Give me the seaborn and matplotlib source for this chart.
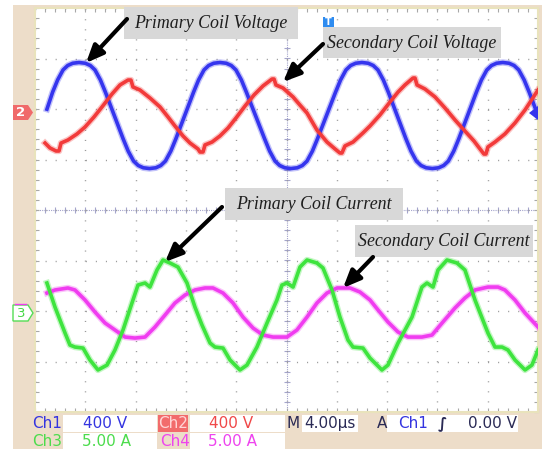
import numpy as np
import pandas as pd
import matplotlib
matplotlib.use("Agg")
import matplotlib.pyplot as plt
import seaborn as sns
from matplotlib.patches import Rectangle, Polygon

# ---------------- data (time in µs, voltage in V, current in A) ----------------
blue_t = [0.95, 1.40, 1.80, 2.23, 2.60, 3.00, 3.50, 4.00, 4.40, 4.77, 5.20, 5.60,
          7.01, 7.41, 7.84, 8.21, 8.61, 9.105, 9.61, 10.00, 10.37, 10.80, 11.20,
          12.61, 13.01, 13.44, 13.81, 14.21, 14.71, 15.21, 15.61, 15.98, 16.41, 16.81,
          18.26, 18.66, 19.09, 19.46, 19.86, 20.355, 20.86, 21.26, 21.63, 22.06, 22.46,
          23.90, 24.30, 24.73, 25.10, 25.50, 26.00, 26.50, 26.90, 27.27, 27.70, 28.10,
          29.50, 29.90, 30.33, 30.70, 31.10, 31.60, 32.10, 32.50, 32.87, 33.30, 33.70,
          35.10, 35.50, 35.93, 36.30, 36.70, 37.20, 37.70, 38.10, 38.47, 38.90, 39.30,
          40.00]
blue_v = [30, 165, 262, 341, 376, 394, 400, 394, 376, 341, 262, 165,
          -205, -302, -381, -416, -434, -440, -434, -416, -381, -302, -205,
          165, 262, 341, 376, 394, 400, 394, 376, 341, 262, 165,
          -205, -302, -381, -416, -434, -440, -434, -416, -381, -302, -205,
          165, 262, 341, 376, 394, 400, 394, 376, 341, 262, 165,
          -205, -302, -381, -416, -434, -440, -434, -416, -381, -302, -205,
          165, 262, 341, 376, 394, 400, 394, 376, 341, 262, 165,
          -20]

red_t = [0.80, 1.19, 1.67, 1.91, 2.07, 2.62, 3.34, 3.98, 4.69, 5.33, 6.12, 6.76, 7.40,
         7.63, 7.79, 8.35, 9.14, 9.94, 10.58, 11.13, 11.77, 12.33, 12.96, 13.12, 13.36,
         13.52, 14.08, 14.71, 15.35, 15.98, 16.70, 17.42, 18.13, 18.85, 19.01, 19.16,
         19.72, 20.52, 21.07, 21.63, 22.42, 23.22, 23.86, 24.25, 24.41, 24.65, 25.29,
         26.08, 26.64, 27.43, 28.23, 28.87, 29.42, 30.06, 30.22, 30.38, 31.01, 31.81,
         32.60, 33.40, 34.19, 34.91, 35.39, 35.70, 35.86, 36.02, 36.58, 37.37, 38.17,
         38.97, 40.00]
red_v = [-238, -277, -301, -301, -238, -214, -166, -111, -32, 48, 150, 222, 261,
         261, 206, 182, 119, 48, -32, -103, -182, -238, -285, -309, -309,
         -253, -230, -182, -119, -40, 55, 143, 214, 269, 269, 222,
         198, 127, 63, 0, -135, -230, -285, -317, -317, -261, -230,
         -158, -103, -16, 87, 166, 222, 277, 277, 222, 190, 127,
         40, -55, -143, -222, -285, -325, -325, -269, -230, -166, -79,
         24, 182]

green_t = [0.95, 1.59, 2.39, 2.78, 3.18, 3.82, 4.37, 5.01, 5.73, 6.36, 7.00, 7.71, 8.19,
           8.75, 9.14, 9.70, 10.18, 10.74, 11.37, 12.09, 12.72, 13.28, 13.92, 14.31,
           14.95, 15.51, 16.30, 16.86, 17.65, 18.45, 19.24, 19.64, 20.04, 20.52, 21.07,
           21.63, 22.42, 22.90, 23.62, 24.25, 24.89, 25.29, 26.08, 26.64, 27.59, 28.07,
           28.87, 29.98, 30.77, 31.17, 31.65, 32.05, 32.76, 33.56, 34.19, 34.99, 36.02,
           36.58, 37.14, 37.61, 38.17, 38.97, 39.52, 40.00]
green_i = [2.97, 0.59, -1.98, -3.17, -3.37, -3.47, -4.65, -5.64, -5.15, -3.66, -1.68, 0.99, 2.77,
           2.97, 2.57, 4.26, 5.25, 4.95, 4.55, 2.97, 0.59, -1.19, -2.97, -3.37,
           -3.47, -4.65, -5.64, -5.15, -3.37, -0.99, 1.29, 2.77, 2.97, 2.57, 4.55,
           5.25, 4.95, 4.46, 2.28, -0.40, -2.67, -3.37, -3.47, -4.46, -5.64, -5.15,
           -2.97, -0.40, 2.57, 2.97, 2.57, 4.26, 5.25, 4.95, 4.26, 1.29, -1.98,
           -3.37, -3.37, -3.66, -4.65, -5.64, -5.15, -3.66]

magenta_t = [0.95, 1.59, 2.62, 3.18, 3.98, 4.77, 5.57, 6.36, 7.16, 7.95, 8.75, 9.54, 10.34,
             11.13, 11.93, 12.72, 13.52, 14.15, 14.95, 15.75, 16.54, 17.34, 18.13, 18.93,
             20.04, 20.83, 21.63, 22.42, 23.22, 24.02, 25.05, 25.84, 26.64, 27.28, 28.07,
             28.87, 29.66, 30.77, 31.57, 32.37, 33.40, 34.19, 34.99, 36.02, 36.82, 37.37,
             38.17, 38.97, 40.00]
magenta_i = [1.98, 2.28, 2.48, 2.28, 1.29, 0.10, -0.99, -1.68, -2.38, -2.48, -2.38, -1.39, -0.20,
             0.99, 1.78, 2.28, 2.48, 2.48, 1.98, 0.99, -0.40, -1.49, -2.18, -2.38,
             -2.38, -1.68, -0.40, 0.99, 1.98, 2.48, 2.48, 2.08, 1.29, 0.30, -0.89,
             -1.88, -2.38, -2.38, -2.18, -0.99, 0.50, 1.49, 2.28, 2.57, 2.57, 2.28,
             1.29, 0.00, -1.39]

channel_names = ["Ch1", "Ch2", "Ch3", "Ch4"]
channel_scales = ["400 V", "400 V", "5.00 A", "5.00 A"]
timebase_label = "4.00\u00b5s"
trigger_level = "0.00 V"
annotations = ["Primary Coil Voltage", "Secondary Coil Voltage",
               "Primary Coil Current", "Secondary Coil Current"]

# ---------------- styling ----------------
W, H = 542, 449
COL = {"Ch1": "#3535EE", "Ch2": "#F23A3A", "Ch3": "#3EE43E", "Ch4": "#F03CF0"}
TXT = {"Ch1": "#3434E0", "Ch2": "#F04848", "Ch3": "#4CDC4C", "Ch4": "#EE44EE"}
DARK = "#2A2A55"
TAN = "#EDDDC9"

fig = plt.figure(figsize=(W / 100, H / 100), dpi=100)
fig.patch.set_facecolor("white")

bg = fig.add_axes([0, 0, 1, 1], zorder=0)
bg.set_xlim(0, W); bg.set_ylim(H, 0); bg.axis("off")
bg.add_patch(Rectangle((13, 5), W - 13, H - 5, color=TAN, lw=0))

ax = fig.add_axes([35 / W, (H - 412) / H, 503 / W, 404 / H], zorder=1)
ax.set_facecolor("white")
ax.set_xlim(0, 40)
ax.set_ylim(-4, 4)
ax.set_xticks(np.arange(0, 40.01, 4))
ax.set_yticks(np.arange(-4, 4.01, 1))
ax.set_xticks(np.arange(0, 40.01, 0.8), minor=True)
ax.set_yticks(np.arange(-4, 4.01, 0.2), minor=True)
ax.tick_params(which="both", direction="in", length=3, width=0.8, color="#A8A8A8",
               labelbottom=False, labelleft=False, top=True, right=True)
ax.grid(which="major", color="#9C9C9C", lw=1.0, linestyle=(0, (0.8, 6.44)))
for s in ax.spines.values():
    s.set_color("#E9E3BC")
    s.set_linewidth(1.5)

# centre cross-hair with minor ticks
cc = "#A4A4CC"
ax.axhline(0, color=cc, lw=0.8, linestyle=(0, (1, 1)), zorder=1)
ax.axvline(20, color=cc, lw=0.8, linestyle=(0, (1, 1)), zorder=1)
mx = np.arange(0, 40.01, 0.8)
ax.plot(mx, np.zeros_like(mx), ls="none", marker="|", ms=5, mew=0.8, color=cc, zorder=1)
my = np.arange(-4, 4.01, 0.2)
ax.plot(np.full_like(my, 20), my, ls="none", marker="_", ms=5, mew=0.8, color=cc, zorder=1)

# channel offsets in divisions and scales per division
off_v, off_i = 1.921, -2.040
vdiv, idiv = 400.0, 5.0

traces = [
    (blue_t, np.array(blue_v) / vdiv + off_v, COL["Ch1"]),
    (red_t, np.array(red_v) / vdiv + off_v, COL["Ch2"]),
    (magenta_t, np.array(magenta_i) / idiv + off_i, COL["Ch4"]),
    (green_t, np.array(green_i) / idiv + off_i, COL["Ch3"]),
]
for t, y, c in traces:
    df = pd.DataFrame({"t": t, "y": y})
    sns.lineplot(data=df, x="t", y="y", ax=ax, color=c, lw=4.6, alpha=0.3,
                 sort=False, estimator=None, zorder=3)
    sns.lineplot(data=df, x="t", y="y", ax=ax, color=c, lw=2.6,
                 sort=False, estimator=None, zorder=4)
ax.set_xlabel(""); ax.set_ylabel("")
ax.set_xlim(0, 40); ax.set_ylim(-4, 4)

# ---------------- overlay (image pixel coordinates) ----------------
ov = fig.add_axes([0, 0, 1, 1], zorder=2)
ov.set_xlim(0, W); ov.set_ylim(H, 0); ov.axis("off")
ov.patch.set_alpha(0)

boxes = [(124, 7, 298, 39), (323, 27, 501, 58), (225, 188, 403, 220), (355, 225, 533, 257)]
for (x0, y0, x1, y1), lab in zip(boxes, annotations):
    ov.add_patch(Rectangle((x0, y0), x1 - x0, y1 - y0, color="#D8D8D8", lw=0))
    ov.text((x0 + x1) / 2, (y0 + y1) / 2 + 0.5, lab, ha="center", va="center",
            fontsize=12.9, style="italic", family="Liberation Serif", color="#1E1E1E")

arrows = [((127, 19), (86, 63)), ((323, 44), (283, 82)),
          ((222, 207), (165, 262)), ((373, 257), (343, 288))]
for tail, tip in arrows:
    ov.annotate("", xy=tip, xytext=tail,
                arrowprops=dict(arrowstyle="-|>,head_length=0.75,head_width=0.32",
                                lw=3.0, color="black", shrinkA=0, shrinkB=0,
                                mutation_scale=14))

# channel markers
ov.add_patch(Polygon([(13, 105), (28, 105), (33, 112.5), (28, 120), (13, 120)],
                     closed=True, color="#F06A6A", lw=0))
ov.text(21, 113, "2", ha="center", va="center", fontsize=9.5, color="white",
        fontweight="bold")
ov.plot([15, 26], [303.5, 303.5], color=COL["Ch4"], lw=1)
ov.add_patch(Polygon([(13, 305), (28, 305), (33, 313), (28, 321), (13, 321)],
                     closed=True, facecolor="white", edgecolor="#55DD55", lw=1))
ov.text(21, 313.5, "3", ha="center", va="center", fontsize=9.5, color="#44D844")
ov.add_patch(Polygon([(538, 106), (529, 113), (538, 120)], closed=True,
                     color=COL["Ch1"], lw=0))
ov.add_patch(Rectangle((323, 17), 11, 10, color="#2F8CF0", lw=0))
ov.text(328.5, 22.3, "T", ha="center", va="center", fontsize=7, color="white",
        fontweight="bold")

# status bar
fs = 11
r1, r2 = 423.5, 441.5
for x0, x1 in [(63, 157), (190, 285), (302, 358), (387, 518)]:
    ov.add_patch(Rectangle((x0, 415), x1 - x0, 17, color="white", lw=0))
for x0, x1 in [(63, 157), (190, 285)]:
    ov.add_patch(Rectangle((x0, 433), x1 - x0, 16, color="white", lw=0))
ov.add_patch(Rectangle((158, 415), 30, 17, color="#F26B6B", lw=0))

ov.text(32, r1, channel_names[0], ha="left", va="center", fontsize=fs, color=TXT["Ch1"])
ov.text(105, r1, channel_scales[0], ha="center", va="center", fontsize=fs, color=TXT["Ch1"])
ov.text(173, r1, channel_names[1], ha="center", va="center", fontsize=fs, color="#FFD6D6")
ov.text(231, r1, channel_scales[1], ha="center", va="center", fontsize=fs, color=TXT["Ch2"])
ov.text(287, r1, "M", ha="left", va="center", fontsize=fs, color=DARK)
ov.text(330, r1, timebase_label, ha="center", va="center", fontsize=fs, color=DARK)
ov.text(382, r1, "A", ha="center", va="center", fontsize=fs, color=DARK)
ov.text(398, r1, "Ch1", ha="left", va="center", fontsize=fs, color=TXT["Ch1"])
ov.text(442, r1, "\u222b", ha="center", va="center", fontsize=fs, color=DARK,
        fontweight="bold")
ov.text(517, r1, trigger_level, ha="right", va="center", fontsize=fs, color=DARK)

ov.text(32, r2, channel_names[2], ha="left", va="center", fontsize=fs, color=TXT["Ch3"])
ov.text(107, r2, channel_scales[2], ha="center", va="center", fontsize=fs, color=TXT["Ch3"])
ov.text(160, r2, channel_names[3], ha="left", va="center", fontsize=fs, color=TXT["Ch4"])
ov.text(232, r2, channel_scales[3], ha="center", va="center", fontsize=fs, color=TXT["Ch4"])

fig.savefig("out.png", dpi=100, facecolor="white")
